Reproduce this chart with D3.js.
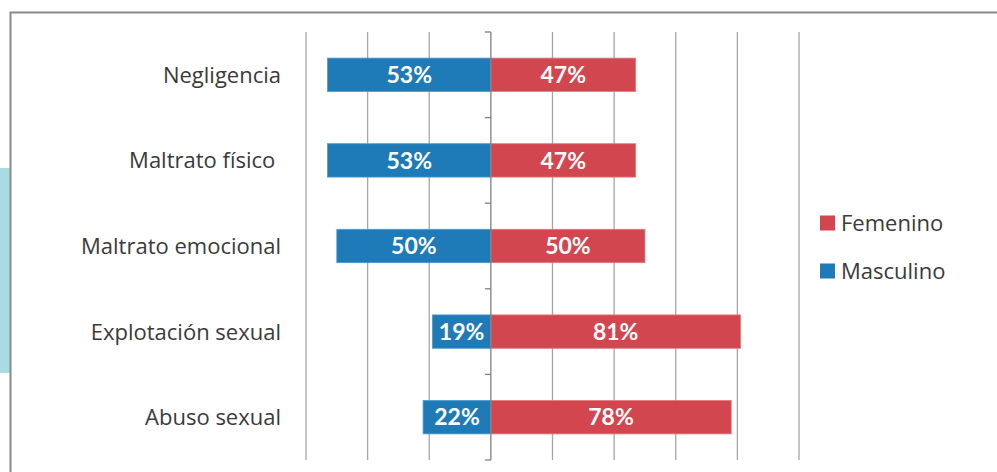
<!DOCTYPE html>
<html><head><meta charset="utf-8">
<script src="https://cdn.jsdelivr.net/npm/d3@7"></script>
<style>body{margin:0;background:#fff;}svg{display:block;font-family:"Open Sans",Lato,sans-serif;}</style>
</head><body>
<svg id="c" width="997" height="472"></svg>
<script>
const categories = ["Negligencia","Maltrato físico ","Maltrato emocional","Explotación sexual","Abuso sexual"];
const masculino = [53,53,50,19,22];
const femenino = [47,47,50,81,78];
const seriesNames = ["Femenino","Masculino"];
const colors = {Femenino:"#d2464f", Masculino:"#1e7bb7"};
const xTicks = [-60,-40,-20,0,20,40,60,80,100];

const svg = d3.select("#c");
// frame + side accent
svg.append("rect").attr("x",0).attr("y",168).attr("width",10).attr("height",205).attr("fill","#a9dbe2");
svg.append("path").attr("d","M10.5,472 V12.5 H997").attr("fill","none").attr("stroke","#8a8a8a").attr("stroke-width",2);

const x = d3.scaleLinear().domain([-60,100]).range([306,799]);
const y = d3.scaleBand().domain(categories).range([32,460]).paddingInner(0.61).paddingOuter(0.305);
const band = d3.scaleBand().domain(categories).range([32,460]);

// gridlines
svg.append("g").selectAll("line").data(xTicks.filter(d=>d!==0)).join("line")
  .attr("x1",d=>x(d)).attr("x2",d=>x(d)).attr("y1",32).attr("y2",460)
  .attr("stroke","#a6a6a6").attr("stroke-width",1.3);

// bars
const gM = svg.append("g");
gM.selectAll("rect").data(categories).join("rect")
  .attr("x",(d,i)=>x(-masculino[i])).attr("width",(d,i)=>x(0)-x(-masculino[i]))
  .attr("y",d=>y(d)).attr("height",y.bandwidth())
  .attr("fill",colors.Masculino).attr("stroke","#4f9ad0").attr("stroke-width",0.8);
const gF = svg.append("g");
gF.selectAll("rect").data(categories).join("rect")
  .attr("x",x(0)).attr("width",(d,i)=>x(femenino[i])-x(0))
  .attr("y",d=>y(d)).attr("height",y.bandwidth())
  .attr("fill",colors.Femenino).attr("stroke","#e07a80").attr("stroke-width",0.8);

// value labels
const vFont = {family:"Lato, sans-serif", size:23};
svg.append("g").selectAll("text").data(categories).join("text")
  .attr("x",(d,i)=>(x(-masculino[i])+x(0))/2).attr("y",d=>y(d)+y.bandwidth()/2)
  .attr("dy","0.36em").attr("text-anchor","middle").attr("fill","#fff")
  .attr("font-family",vFont.family).attr("font-weight","bold").attr("font-size",vFont.size).text((d,i)=>masculino[i]+"%");
svg.append("g").selectAll("text").data(categories).join("text")
  .attr("x",(d,i)=>(x(femenino[i])+x(0))/2).attr("y",d=>y(d)+y.bandwidth()/2)
  .attr("dy","0.36em").attr("text-anchor","middle").attr("fill","#fff")
  .attr("font-family",vFont.family).attr("font-weight","bold").attr("font-size",vFont.size).text((d,i)=>femenino[i]+"%");

// category axis at zero
const axis = svg.append("g");
axis.append("line").attr("x1",x(0)).attr("x2",x(0)).attr("y1",32).attr("y2",460).attr("stroke","#7f7f7f").attr("stroke-width",1.3);
const tickYs = categories.map(c=>band(c)).concat([460]);
axis.selectAll(".tk").data(tickYs).join("line").attr("class","tk")
  .attr("x1",x(0)-6).attr("x2",x(0)).attr("y1",d=>d).attr("y2",d=>d)
  .attr("stroke","#7f7f7f").attr("stroke-width",1.3);

// category labels
svg.append("g").selectAll("text").data(categories).join("text")
  .attr("x",281).attr("y",d=>band(d)+band.bandwidth()/2)
  .attr("dy","0.36em").attr("text-anchor","end").attr("fill","#3a3a3a")
  .attr("font-size",22).style("white-space","pre").text(d=>d);

// legend
const leg = svg.append("g").selectAll("g").data(seriesNames).join("g")
  .attr("transform",(d,i)=>`translate(820,${223+i*48})`);
leg.append("rect").attr("x",0).attr("y",-7.5).attr("width",15).attr("height",15).attr("fill",d=>colors[d]);
leg.append("text").attr("x",21).attr("y",0).attr("dy","0.36em").attr("font-size",22).attr("fill","#3a3a3a").text(d=>d);
</script>
</body></html>
